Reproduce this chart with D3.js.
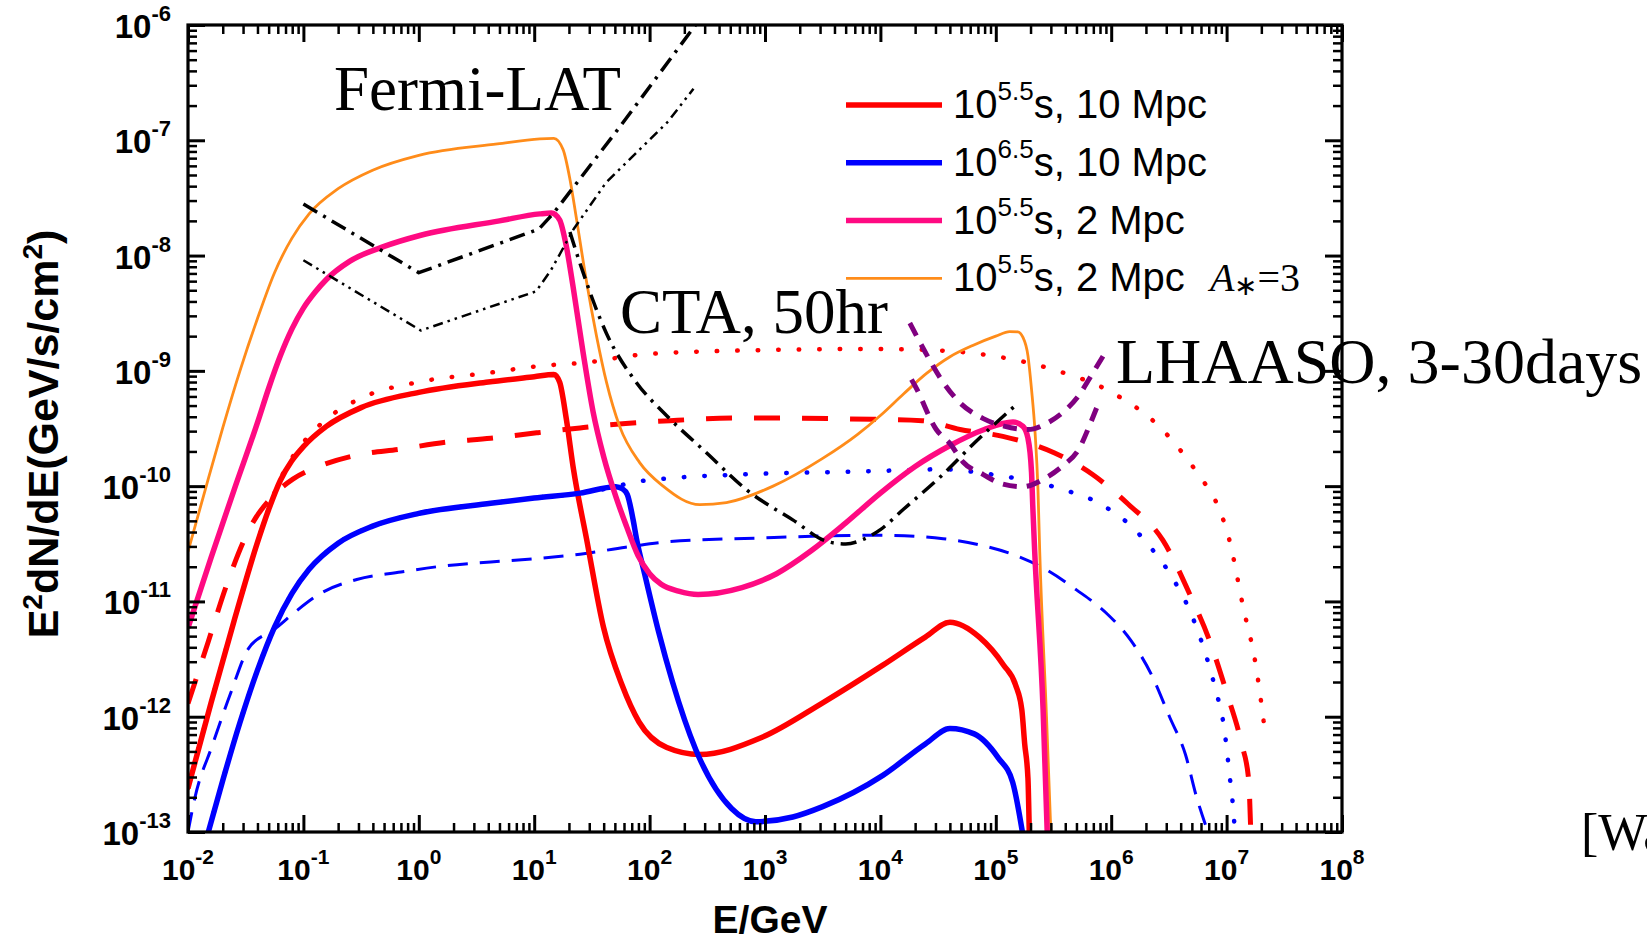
<!DOCTYPE html>
<html>
<head>
<meta charset="utf-8">
<script src="https://cdn.jsdelivr.net/npm/d3@7"></script>
<style>
  html, body { margin: 0; padding: 0; background: #fff; }
  svg { display: block; }
</style>
</head>
<body>
<svg id="chart" width="1647" height="941"></svg>
<script>
// Spectra: [E (GeV), E^2 dN/dE (GeV/s/cm^2)]
const redSolid = [
  [0.01, 2.4e-13], [0.01585, 1.32e-12], [0.0251, 6.8e-12], [0.0398, 3.2e-11], [0.0501, 6.3e-11],
  [0.0631, 1.12e-10], [0.0794, 1.66e-10], [0.1, 2.2e-10], [0.158, 3.3e-10], [0.316, 4.8e-10],
  [1, 6.5e-10], [4, 8e-10], [10, 8.9e-10], [14.8, 9.3e-10], [16.6, 8e-10], [19, 3.8e-10],
  [21.9, 1.4e-10], [28.4, 3.5e-11], [39.8, 6e-12], [57.5, 1.9e-12], [81, 9e-13], [141, 5.4e-13],
  [270, 4.7e-13], [933, 6.6e-13], [3160, 1.32e-12], [1.05e4, 2.8e-12], [2.45e4, 4.9e-12],
  [4e4, 6.6e-12], [7.2e4, 4.9e-12], [1.17e5, 2.8e-12], [1.48e5, 1.9e-12], [1.68e5, 1.15e-12],
  [1.78e5, 5.8e-13], [1.9e5, 2.9e-13], [1.95e5, 1e-13]
];
const redDashed = [
  [0.01, 1.3e-12], [0.015, 4.5e-12], [0.0214, 1.35e-11], [0.0334, 4.1e-11], [0.0575, 8.7e-11],
  [0.081, 1.15e-10], [0.14, 1.5e-10], [0.29, 1.86e-10], [0.7, 2.1e-10], [1.7, 2.4e-10],
  [4.2, 2.6e-10], [10.5, 2.9e-10], [25, 3.2e-10], [62, 3.5e-10], [150, 3.7e-10], [600, 3.9e-10],
  [8600, 3.8e-10], [2.3e4, 3.7e-10], [4.9e4, 3.1e-10], [1.15e5, 2.7e-10], [3.2e5, 1.95e-10],
  [6.9e5, 1.26e-10], [1.4e6, 7e-11], [2.8e6, 3.4e-11], [4.9e6, 1.1e-11], [7.1e6, 4.6e-12],
  [1e7, 1.62e-12], [1.35e7, 5.8e-13], [1.55e7, 2.9e-13], [1.62e7, 1e-13]
];
const redDotted = [
  [0.01, 2.4e-13], [0.01585, 1.32e-12], [0.0251, 6.8e-12], [0.0398, 3.2e-11], [0.0501, 6.4e-11],
  [0.0631, 1.15e-10], [0.0794, 1.75e-10], [0.1, 2.4e-10], [0.158, 3.8e-10], [0.316, 5.8e-10],
  [1, 8e-10], [4, 9.6e-10], [11, 1.1e-9], [28, 1.18e-9], [82, 1.38e-9], [600, 1.5e-9],
  [8700, 1.55e-9], [3.3e4, 1.5e-9], [9.4e4, 1.35e-9], [3.1e5, 1.03e-9], [1.04e6, 6.4e-10],
  [2.6e6, 3.3e-10], [5.9e6, 1.2e-10], [8e6, 7.5e-11], [1.05e7, 3.5e-11], [1.4e7, 8.7e-12],
  [1.78e7, 2.9e-12], [2.1e7, 9e-13]
];
const blueSolid = [
  [0.015, 1e-13], [0.02, 2.8e-13], [0.0282, 8.9e-13], [0.0398, 2.5e-12], [0.0562, 6e-12],
  [0.0794, 1.17e-11], [0.112, 1.9e-11], [0.2, 3.2e-11], [0.398, 4.5e-11], [1, 5.8e-11],
  [4.2, 7.1e-11], [10, 7.9e-11], [25, 8.7e-11], [51, 9.9e-11], [58, 9.5e-11], [64, 8.5e-11],
  [72, 5.1e-11], [77, 3.5e-11], [91, 1.7e-11], [120, 5.4e-12], [158, 2e-12], [251, 5.2e-13],
  [513, 1.6e-13], [832, 1.23e-13], [1740, 1.35e-13], [3160, 1.66e-13], [1.05e4, 3.1e-13],
  [2.45e4, 5.8e-13], [4e4, 7.9e-13], [6.5e4, 7.1e-13], [1.05e5, 4.4e-13], [1.4e5, 2.7e-13],
  [1.7e5, 1e-13]
];
const blueDashed = [
  [0.01, 1e-13], [0.0115, 2e-13], [0.0162, 5.6e-13], [0.0234, 1.6e-12], [0.0334, 3.9e-12],
  [0.057, 5.8e-12], [0.081, 7.8e-12], [0.14, 1.17e-11], [0.29, 1.55e-11], [0.7, 1.8e-11],
  [1.7, 2.04e-11], [4.2, 2.2e-11], [10.2, 2.35e-11], [25, 2.57e-11], [62, 2.95e-11],
  [150, 3.3e-11], [930, 3.55e-11], [3200, 3.7e-11], [1e4, 3.75e-11], [3.5e4, 3.5e-11],
  [7.2e4, 3.1e-11], [1.5e5, 2.5e-11], [2.7e5, 1.9e-11], [5e5, 1.26e-11], [9.1e5, 7.9e-12],
  [1.48e6, 4.6e-12], [2.24e6, 2.3e-12], [3.2e6, 1e-12], [4.4e6, 4.7e-13], [5.5e6, 2e-13],
  [6.9e6, 1e-13]
];
const blueDotted = [
  [0.015, 1e-13], [0.02, 2.8e-13], [0.0282, 8.9e-13], [0.0398, 2.5e-12], [0.0562, 6e-12],
  [0.0794, 1.17e-11], [0.112, 1.9e-11], [0.2, 3.2e-11], [0.398, 4.5e-11], [1, 5.8e-11],
  [4.2, 7.1e-11], [10, 7.9e-11], [25, 8.7e-11], [51, 9.9e-11], [66, 1.06e-10], [150, 1.17e-10],
  [600, 1.26e-10], [8700, 1.35e-10], [3.3e4, 1.4e-10], [9.4e4, 1.26e-10], [3.5e5, 9.6e-11],
  [8.5e5, 6.8e-11], [1.6e6, 4.2e-11], [2.1e6, 3.1e-11], [3.4e6, 1.6e-11], [4.9e6, 7.9e-12],
  [6.3e6, 4e-12], [8e6, 1.74e-12], [9.5e6, 8.1e-13], [1.07e7, 2.9e-13], [1.15e7, 1.45e-13],
  [1.18e7, 1e-13]
];
const pinkSolid = [
  [0.01, 5.9e-12], [0.01585, 2.4e-11], [0.0251, 9.3e-11], [0.0398, 3.5e-10], [0.0501, 7.1e-10],
  [0.0631, 1.35e-9], [0.0794, 2.3e-9], [0.1, 3.5e-9], [0.126, 4.8e-9], [0.158, 6.2e-9],
  [0.251, 8.9e-9], [0.501, 1.2e-8], [1.04, 1.5e-8], [5, 2e-8], [11.2, 2.3e-8], [14.1, 2.34e-8],
  [16.6, 2.04e-8], [19, 1.2e-8], [21.7, 5.4e-9], [26.5, 1.45e-9], [32.4, 4.4e-10], [40, 1.8e-10],
  [51, 8.1e-11], [63, 4.5e-11], [79.4, 2.5e-11], [100, 1.74e-11], [126, 1.41e-11],
  [178, 1.23e-11], [263, 1.15e-11], [631, 1.32e-11], [1259, 1.74e-11], [2512, 2.75e-11],
  [5012, 4.8e-11], [1e4, 8.7e-11], [2e4, 1.48e-10], [3.98e4, 2.24e-10], [7.94e4, 3.1e-10],
  [1.41e5, 3.6e-10], [1.72e5, 3.3e-10], [1.9e5, 2.6e-10], [2.04e5, 1.32e-10], [2.09e5, 6.8e-11],
  [2.17e5, 2.8e-11], [2.57e5, 1.15e-12], [2.79e5, 1e-13]
];
const orangeSolid = [
  [0.01, 2.7e-11], [0.0141, 9.3e-11], [0.02, 3.2e-10], [0.0282, 1e-9], [0.0398, 2.8e-9],
  [0.0562, 7.1e-9], [0.0794, 1.41e-8], [0.112, 2.3e-8], [0.2, 3.8e-8], [0.398, 5.5e-8],
  [1, 7.4e-8], [4.8, 9.3e-8], [11.2, 1.03e-7], [14.8, 1.04e-7], [17.8, 8.3e-8], [20.4, 4.6e-8],
  [23.4, 2e-8], [28.2, 6.2e-9], [34.7, 2e-9], [42.4, 7.9e-10], [55, 3.3e-10], [82, 1.6e-10],
  [131, 1e-10], [272, 6.9e-11], [463, 7.2e-11], [1175, 1e-10], [3160, 1.74e-10], [6310, 2.8e-10],
  [1e4, 4.1e-10], [1.585e4, 6.3e-10], [2.51e4, 9.5e-10], [3.98e4, 1.32e-9], [6.31e4, 1.66e-9],
  [1e5, 2e-9], [1.32e5, 2.19e-9], [1.55e5, 2.18e-9], [1.72e5, 1.95e-9], [1.9e5, 1.35e-9],
  [2.04e5, 6.9e-10], [2.19e5, 2.9e-10], [2.32e5, 9.3e-11], [2.4e5, 2.8e-11], [2.75e5, 1e-12],
  [3e5, 1e-13]
];

// Instrument sensitivities
const fermiUpper = [[0.1, 2.8e-8], [1, 7.1e-9], [11, 1.7e-8], [14.8, 2.35e-8], [55, 1.3e-7], [250, 1e-6]];
const fermiLower = [[0.1, 9.1e-9], [1.04, 2.24e-9], [10.4, 4.9e-9], [14, 7.5e-9], [22, 1.7e-8], [42, 4.3e-8], [145, 1.46e-7], [240, 2.8e-7]];
const ctaSens = [
  [20.4, 1.6e-8], [24.8, 8.7e-9], [42.4, 2.1e-9], [77, 7.9e-10], [140, 4.1e-10], [311, 1.95e-10],
  [692, 9.3e-11], [1740, 5.1e-11], [3500, 3.3e-11], [5000, 3.15e-11], [7080, 3.45e-11],
  [1e4, 4.2e-11], [1.585e4, 6.3e-11], [3.47e4, 1.26e-10], [6.76e4, 2.45e-10], [1.51e5, 5.1e-10]
];
const lhaaso3d = [
  [1.8e4, 2.6e-9], [2.45e4, 1.45e-9], [3.3e4, 8.7e-10], [4.7e4, 5.5e-10], [7.8e4, 3.85e-10],
  [1.2e5, 3.3e-10], [1.9e5, 3.1e-10], [2.75e5, 3.5e-10], [3.95e5, 4.5e-10], [5.1e5, 5.9e-10],
  [6.8e5, 9.3e-10], [9.1e5, 1.5e-9]
];
const lhaaso30d = [
  [1.86e4, 8.4e-10], [2e4, 7.4e-10], [3.05e4, 3.1e-10], [4e4, 2.35e-10], [5.2e4, 1.62e-10],
  [7.8e4, 1.26e-10], [1.12e5, 1.05e-10], [1.72e5, 9.9e-11], [2.63e5, 1.16e-10], [3.8e5, 1.5e-10],
  [5.25e5, 2.1e-10], [6.6e5, 3.5e-10], [7.9e5, 5.5e-10]
];

// Axis ticks (powers of ten)
const xTickExps = [-2, -1, 0, 1, 2, 3, 4, 5, 6, 7, 8];
const yTickExps = [-13, -12, -11, -10, -9, -8, -7, -6];

// Legend
const legendItems = [
  { exp: "5.5", rest: "s, 10 Mpc", color: "#ff0000", width: 5.5 },
  { exp: "6.5", rest: "s, 10 Mpc", color: "#0000ff", width: 5.5 },
  { exp: "5.5", rest: "s, 2 Mpc", color: "#ff0a82", width: 5.5 },
  { exp: "5.5", rest: "s, 2 Mpc", color: "#ff8c1a", width: 2.8 }
];

const L = 188, R = 1342, T = 25, B = 832;
const sans = "'Liberation Sans', Arial, Helvetica, sans-serif";
const serif = "'Liberation Serif', 'Times New Roman', serif";

const svg = d3.select("#chart");
const x = d3.scaleLog().domain([1e-2, 1e8]).range([L, R]);
const y = d3.scaleLog().domain([1e-13, 1e-6]).range([B, T]);

svg.append("defs").append("clipPath").attr("id", "plotClip")
  .append("rect").attr("x", L).attr("y", T).attr("width", R - L).attr("height", B - T);

const plot = svg.append("g").attr("clip-path", "url(#plotClip)");
const smooth = d3.line().x(d => x(d[0])).y(d => y(d[1])).curve(d3.curveMonotoneX);
const straight = d3.line().x(d => x(d[0])).y(d => y(d[1]));

function drawLine(data, gen, color, width, dash, cap) {
  plot.append("path")
    .attr("d", gen(data))
    .attr("fill", "none")
    .attr("stroke", color)
    .attr("stroke-width", width)
    .attr("stroke-dasharray", dash || null)
    .attr("stroke-linecap", cap || "butt")
    .attr("stroke-linejoin", "round");
}

// model curves
drawLine(redDotted, smooth, "#ff0000", 4.5, "0.5 20", "round");
drawLine(blueDotted, smooth, "#0000ff", 4.5, "0.5 20", "round");
drawLine(redDashed, smooth, "#ff0000", 5, "26 22");
drawLine(blueDashed, smooth, "#0000ff", 3, "20 12");
drawLine(orangeSolid, smooth, "#ff8c1a", 2.8);
drawLine(redSolid, smooth, "#ff0000", 5.5);
drawLine(blueSolid, smooth, "#0000ff", 5.5);
drawLine(pinkSolid, smooth, "#ff0a82", 5.5);

// sensitivities
drawLine(fermiUpper, straight, "#000", 3.5, "16 7 3 7");
drawLine(fermiLower, straight, "#000", 2.5, "10 5 2.5 5 2.5 5");
drawLine(ctaSens, smooth, "#000", 3.5, "16 7 3 7");
drawLine(lhaaso3d, smooth, "#800080", 5, "14 10");
drawLine(lhaaso30d, smooth, "#800080", 5, "14 10");

// axes: ticks point inward on all four sides
const majorX = xTickExps.map(e => Math.pow(10, e));
const majorY = yTickExps.map(e => Math.pow(10, e));
const minorX = [], minorY = [];
for (let e = -2; e < 8; e++) for (let k = 2; k < 10; k++) minorX.push(k * Math.pow(10, e));
for (let e = -13; e < -6; e++) for (let k = 2; k < 10; k++) minorY.push(k * Math.pow(10, e));

function ticks(axisFn, scale, vals, size, sw, tx, ty) {
  const g = svg.append("g").attr("transform", `translate(${tx},${ty})`)
    .call(axisFn(scale).tickValues(vals).tickSize(-size).tickFormat(""));
  g.select(".domain").remove();
  g.selectAll(".tick line").attr("stroke", "#000").attr("stroke-width", sw);
}
ticks(d3.axisBottom, x, majorX, 17, 3, 0, B);
ticks(d3.axisBottom, x, minorX, 9, 2.5, 0, B);
ticks(d3.axisTop, x, majorX, 17, 3, 0, T);
ticks(d3.axisTop, x, minorX, 9, 2.5, 0, T);
ticks(d3.axisLeft, y, majorY, 17, 3, L, 0);
ticks(d3.axisLeft, y, minorY, 9, 2.5, L, 0);
ticks(d3.axisRight, y, majorY, 17, 3, R, 0);
ticks(d3.axisRight, y, minorY, 9, 2.5, R, 0);

svg.append("rect").attr("x", L).attr("y", T).attr("width", R - L).attr("height", B - T)
  .attr("fill", "none").attr("stroke", "#000").attr("stroke-width", 3.2);

// tick labels
const xl = svg.append("g").attr("font-family", sans).attr("font-weight", "bold").attr("fill", "#000");
xTickExps.forEach(e => {
  const t = xl.append("text").attr("x", x(Math.pow(10, e))).attr("y", 880)
    .attr("text-anchor", "middle").attr("font-size", 30);
  t.append("tspan").text("10");
  t.append("tspan").attr("dy", -16).attr("font-size", 21).text(String(e));
});
const yl = svg.append("g").attr("font-family", sans).attr("font-weight", "bold").attr("fill", "#000");
yTickExps.forEach(e => {
  const t = yl.append("text").attr("x", 171).attr("y", y(Math.pow(10, e)) + 13)
    .attr("text-anchor", "end").attr("font-size", 33);
  t.append("tspan").text("10");
  t.append("tspan").attr("dy", -17).attr("font-size", 22).text(String(e));
});

// axis titles
svg.append("text").attr("x", 770).attr("y", 933).attr("text-anchor", "middle")
  .attr("font-family", sans).attr("font-weight", "bold").attr("font-size", 39).text("E/GeV");
const yt = svg.append("text").attr("transform", "translate(58,434) rotate(-90)")
  .attr("text-anchor", "middle").attr("font-family", sans).attr("font-weight", "bold").attr("font-size", 43);
yt.append("tspan").text("E");
yt.append("tspan").attr("dy", -16).attr("font-size", 28).text("2");
yt.append("tspan").attr("dy", 16).text("dN/dE(GeV/s/cm");
yt.append("tspan").attr("dy", -16).attr("font-size", 28).text("2");
yt.append("tspan").attr("dy", 16).text(")");

// legend
const legY0 = 105, legDY = 57.8;
legendItems.forEach((d, i) => {
  const ly = legY0 + i * legDY;
  svg.append("line").attr("x1", 846).attr("x2", 942).attr("y1", ly).attr("y2", ly)
    .attr("stroke", d.color).attr("stroke-width", d.width);
  const t = svg.append("text").attr("x", 953).attr("y", ly + 13)
    .attr("font-family", sans).attr("font-size", 40).attr("fill", "#000");
  t.append("tspan").text("10");
  t.append("tspan").attr("dy", -18).attr("font-size", 26).text(d.exp);
  t.append("tspan").attr("dy", 18).text(d.rest);
});
const aStar = svg.append("text").attr("x", 1210).attr("y", legY0 + 3 * legDY + 13)
  .attr("font-family", serif).attr("font-size", 40).attr("fill", "#000");
aStar.append("tspan").attr("font-style", "italic").text("A");
aStar.append("tspan").attr("dy", 4).attr("font-size", 28).text("\u2217");
aStar.append("tspan").attr("dy", -4).text("=3");

// instrument labels
const notes = [
  { text: "Fermi-LAT", x: 334, y: 110, size: 63 },
  { text: "CTA, 50hr", x: 620, y: 333, size: 63 },
  { text: "LHAASO, 3-30days", x: 1116, y: 383, size: 64 }
];
notes.forEach(n => {
  svg.append("text").attr("x", n.x).attr("y", n.y).attr("font-family", serif)
    .attr("font-size", n.size).attr("fill", "#000").text(n.text);
});
// citation, running off the right edge of the page
svg.append("text").attr("x", 1581).attr("y", 850).attr("font-family", serif)
  .attr("font-size", 52).attr("fill", "#000").text("[Wang et al.]");
</script>
</body>
</html>
